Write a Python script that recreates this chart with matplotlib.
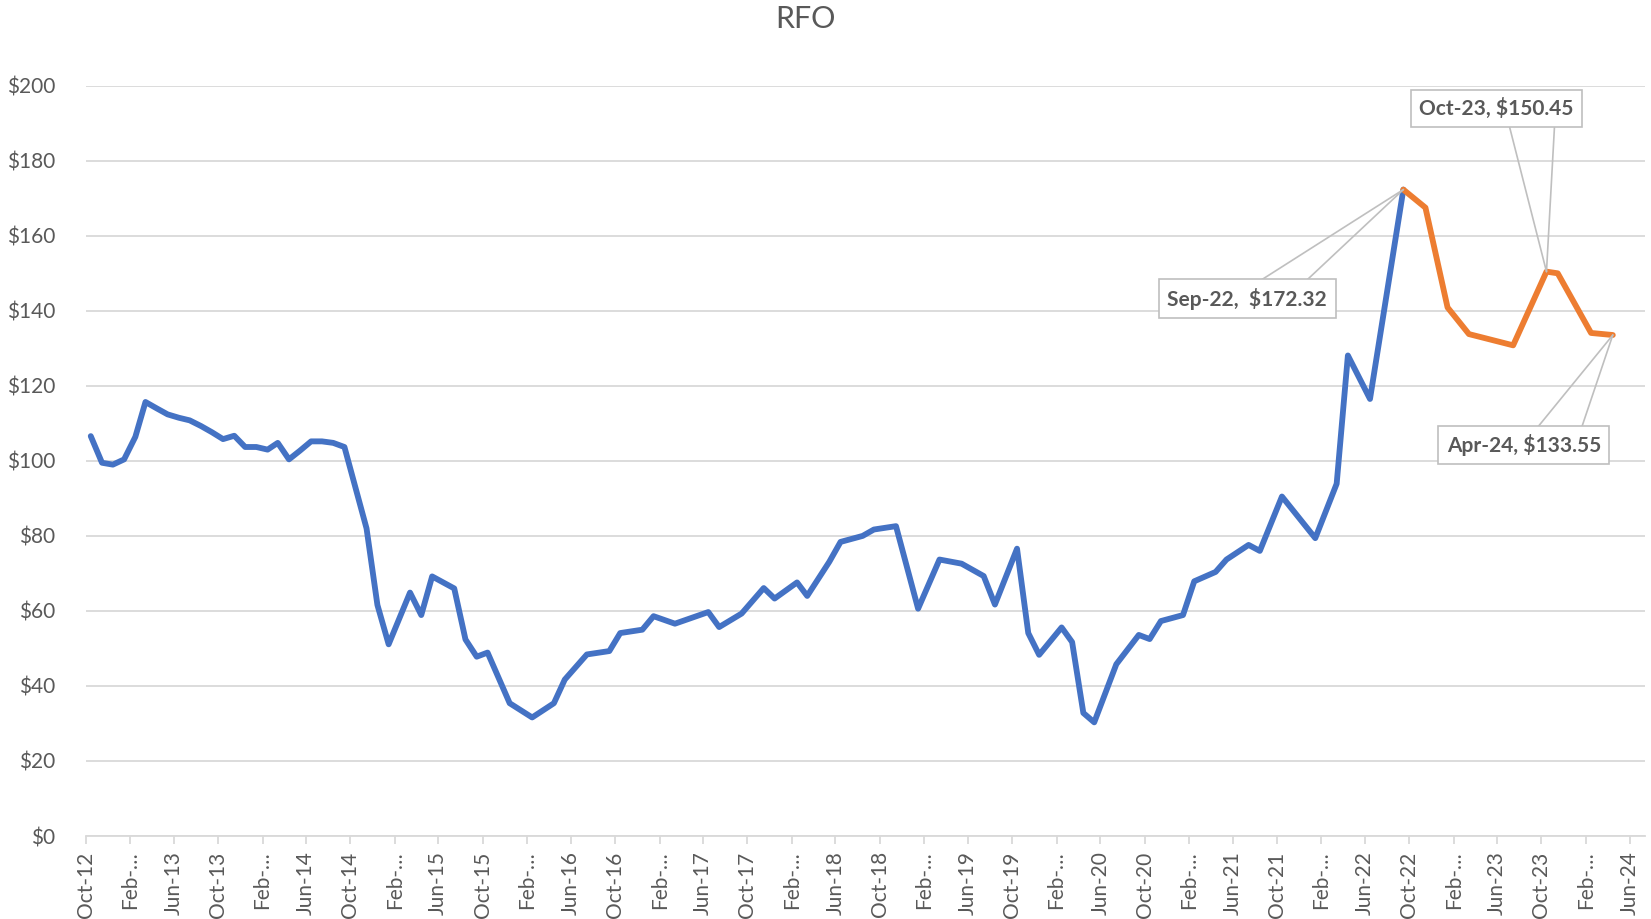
import matplotlib
matplotlib.use("Agg")
import matplotlib.pyplot as plt
import pandas as pd

# ---- data ----
blue_months = ["2012-10", "2012-11", "2012-12", "2013-01", "2013-02", "2013-03", "2013-04",
               "2013-05", "2013-06", "2013-07", "2013-08", "2013-09", "2013-10", "2013-11",
               "2013-12", "2014-01", "2014-02", "2014-03", "2014-04", "2014-05", "2014-06",
               "2014-07", "2014-08", "2014-09", "2014-11", "2014-12", "2015-01", "2015-03",
               "2015-04", "2015-05", "2015-07", "2015-08", "2015-09", "2015-10", "2015-12",
               "2016-02", "2016-04", "2016-05", "2016-07", "2016-09", "2016-10", "2016-12",
               "2017-01", "2017-03", "2017-06", "2017-07", "2017-09", "2017-11", "2017-12",
               "2018-02", "2018-03", "2018-05", "2018-06", "2018-08", "2018-09", "2018-11",
               "2019-01", "2019-03", "2019-05", "2019-07", "2019-08", "2019-10", "2019-11",
               "2019-12", "2020-02", "2020-03", "2020-04", "2020-05", "2020-07", "2020-09",
               "2020-10", "2020-11", "2021-01", "2021-02", "2021-04", "2021-05", "2021-07",
               "2021-08", "2021-10", "2022-01", "2022-03", "2022-04", "2022-06", "2022-09"]
blue_values = [106.6, 99.5, 99.0, 100.4, 106.4, 115.7, 114.0,
               112.4, 111.5, 110.8, 109.3, 107.6, 105.8, 106.7,
               103.7, 103.7, 103.0, 104.8, 100.4, 102.7, 105.2,
               105.2, 104.8, 103.7, 82.0, 61.6, 51.1, 64.9,
               58.9, 69.2, 66.0, 52.4, 47.8, 48.9, 35.4,
               31.6, 35.4, 41.7, 48.4, 49.3, 54.1, 55.0,
               58.6, 56.6, 59.7, 55.7, 59.3, 66.1, 63.3,
               67.6, 64.0, 73.1, 78.4, 80.0, 81.7, 82.6,
               60.6, 73.7, 72.6, 69.3, 61.7, 76.6, 54.1,
               48.3, 55.6, 51.7, 32.8, 30.3, 45.8, 53.6,
               52.5, 57.3, 58.9, 67.9, 70.4, 73.7, 77.6,
               76.0, 90.5, 79.4, 93.9, 128.1, 116.5, 172.32]

orange_months = ["2022-09", "2022-11", "2023-01", "2023-03", "2023-07", "2023-10",
                 "2023-11", "2024-02", "2024-04"]
orange_values = [172.32, 167.5, 140.9, 133.8, 130.8, 150.45, 150.0, 134.1, 133.55]

y_ticks = [0, 20, 40, 60, 80, 100, 120, 140, 160, 180, 200]
title = "RFO"

# labels: (month, value, text)
label_points = [("2022-09", 172.32, "Sep-22,  $172.32"),
                ("2023-10", 150.45, "Oct-23, $150.45"),
                ("2024-04", 133.55, "Apr-24, $133.55")]

# ---- style ----
plt.rcParams['font.family'] = ['Lato', 'DejaVu Sans']
GREY_TXT = "#595959"
GRID = "#D9D9D9"
BLUE = "#4472C4"
ORANGE = "#ED7D31"


def to_dates(months):
    return pd.to_datetime([m + "-15" for m in months])


fig = plt.figure(figsize=(16.51, 9.19), dpi=100)
ax = fig.add_axes([0.0519, 0.0903, 0.9445, 0.8164])

ax.plot(to_dates(blue_months), blue_values, color=BLUE, lw=4.2,
        solid_joinstyle='round', solid_capstyle='round', zorder=3)
ax.plot(to_dates(orange_months), orange_values, color=ORANGE, lw=4.2,
        solid_joinstyle='round', solid_capstyle='round', zorder=3)

ax.set_ylim(0, 200)
ax.set_yticks(y_ticks)
ax.set_yticklabels([f"${v}" for v in y_ticks])
ax.set_xlim(pd.Timestamp("2012-10-01"), pd.Timestamp("2024-07-13"))

xt = pd.date_range("2012-10-01", "2024-06-01", freq="4MS")
ax.set_xticks(xt)
xl = []
for d in xt:
    s = d.strftime("%b-%y")
    if d.month == 2:
        s = "Feb-\u2026"
    xl.append(s)
ax.set_xticklabels(xl, rotation=90)

ax.grid(axis='y', color=GRID, lw=1.3, zorder=0)
for sp in ["top", "right", "left"]:
    ax.spines[sp].set_visible(False)
ax.spines["bottom"].set_color(GRID)
ax.spines["bottom"].set_linewidth(1.3)
ax.tick_params(axis='y', length=0, pad=22, labelsize=15, labelcolor=GREY_TXT)
ax.tick_params(axis='x', length=6, width=1.3, color=GRID, pad=5, labelsize=15,
               labelcolor=GREY_TXT)
ax.set_axisbelow(True)

fig.text(0.4877, 0.979, title, ha='center', va='center', fontsize=22, color=GREY_TXT)

# data-label callouts: (box center offset, leader line starts) in pixels
callouts = [
    ((-156, -109), [(-143, -91), (-97, -91)]),
    ((-50, 163), [(-37, 145), (8, 145)]),
    ((-89, -110), [(-75, -92), (-31, -92)]),
]
for (m, v, txt), (center, leaders) in zip(label_points, callouts):
    xd = to_dates([m])[0]
    for (lx, ly) in leaders:
        ax.annotate("", xy=(xd, v), xytext=(lx, ly), textcoords='offset pixels',
                    arrowprops=dict(arrowstyle='-', color="#BFBFBF", lw=1.2,
                                    shrinkA=0, shrinkB=0), zorder=4)
    ax.annotate(txt, xy=(xd, v), xytext=center, textcoords='offset pixels',
                ha='center', va='center', fontsize=15, fontweight='bold', color=GREY_TXT,
                bbox=dict(boxstyle='square,pad=0.4', fc='white', ec='#BFBFBF', lw=1.2),
                zorder=5)

fig.savefig("out.png", dpi=100, facecolor='white')
